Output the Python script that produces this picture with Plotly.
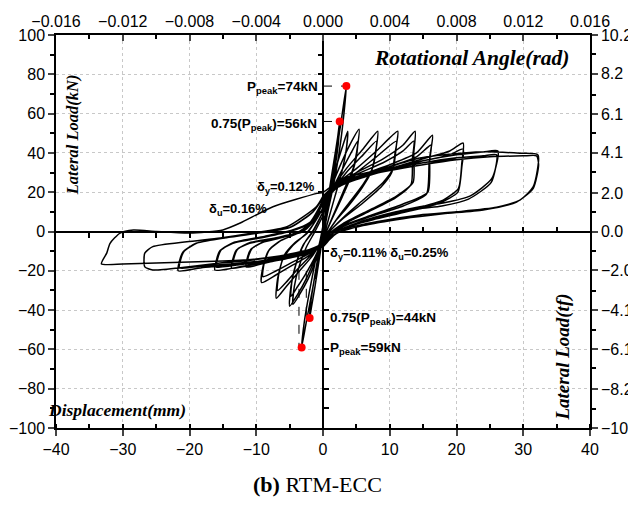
import plotly.graph_objects as go

# ---------------- data ----------------
# hysteresis cycles: displacement (mm) and lateral load (kN)
cyc1_mm = [0, 0.5, 1.0, 1.3, 1.0, 0.3, 0, -0.5, -1.0, -1.2, -0.8, -0.3, 0]
cyc1_kN = [0, 10, 20, 25, 18, 5, 0, -10, -20, -24, -15, -5, 0]

cyc2_mm = [0, 0.8, 1.6, 2.2, 2.5, 2.3, 1.6, 0.8, 0, -0.6, -1.2, -1.7, -2.0, -1.8, -1.2, -0.6, 0]
cyc2_kN = [0, 18, 35, 48, 56, 45, 28, 12, -2, -15, -28, -38, -44, -35, -22, -10, 0]

cyc3_mm = [0, 1.0, 2.0, 2.8, 3.5, 3.2, 2.5, 1.6, 0.6, 0, -0.8, -1.6, -2.5, -3.2, -2.8, -2.0, -1.2, -0.4, 0]
cyc3_kN = [0, 20, 40, 58, 74, 62, 42, 24, 8, -3, -15, -30, -46, -59, -46, -30, -16, -4, 3]

cyc4_mm = [0, 1.0, 2.0, 3.0, 3.7, 3.5, 2.8, 1.8, 0.8, 0, -1.0, -2.2, -3.5, -4.5, -4.3, -3.6, -2.5, -1.2, 0]
cyc4_kN = [3, 20, 33, 44, 51, 42, 30, 18, 6, -4, -14, -24, -32, -37, -28, -18, -8, 0, 8]

cyc5_mm = [0, 1.0, 2.5, 4.0, 5.4, 5.2, 4.5, 3.0, 1.5, 0, -1.2, -2.5, -3.8, -5.0, -4.8, -4.0, -3.0, -1.5, 0]
cyc5_kN = [8, 20, 33, 44, 52, 44, 32, 20, 8, -4, -14, -24, -32, -38, -28, -16, -7, 0, 10]

cyc5b_mm = [0, 1.2, 2.8, 4.2, 5.2, 5.0, 4.2, 2.8, 1.3, 0, -1.2, -2.5, -3.8, -4.8, -4.6, -3.8, -2.8, -1.4, 0]
cyc5b_kN = [10, 20, 31, 40, 46, 38, 28, 17, 6, -4, -13, -21, -28, -33, -24, -14, -6, 1, 10]

cyc6_mm = [0, 1.5, 3.5, 6.0, 8.2, 8.0, 7.5, 6.0, 4.0, 2.0, 0, -1.5, -3.5, -5.5, -7.0, -6.8, -6.0, -4.5, -2.5, -1.0, 0]
cyc6_kN = [10, 22, 32, 42, 51, 43, 33, 24, 15, 6, -4, -12, -20, -28, -34, -24, -14, -7, -1, 6, 12]

cyc6b_mm = [0, 1.5, 3.5, 6.0, 8.0, 7.8, 7.2, 5.8, 3.8, 1.8, 0, -1.5, -3.5, -5.3, -6.8, -6.6, -5.8, -4.3, -2.4, -1.0, 0]
cyc6b_kN = [12, 21, 30, 39, 46, 39, 30, 22, 13, 5, -4, -11, -18, -25, -30, -21, -12, -6, -1, 6, 12]

cyc7_mm = [0, 2.0, 5.0, 8.0, 11.2, 11.0, 10.5, 9.0, 6.0, 3.0, 1.0, 0, -2.0, -4.5, -7.0, -9.2, -9.0, -8.2, -6.5, -4.0, -2.0, 0]
cyc7_kN = [12, 24, 32, 41, 51, 44, 32, 25, 16, 7, 0, -5, -12, -17, -22, -26, -18, -10, -5, -1, 4, 14]

cyc7b_mm = [0, 2.0, 5.0, 8.0, 11.0, 10.8, 10.3, 8.8, 5.8, 2.8, 1.0, 0, -2.0, -4.5, -7.0, -9.0, -8.8, -8.0, -6.3, -3.8, -1.8, 0]
cyc7b_kN = [13, 23, 30, 38, 46, 40, 30, 23, 14, 6, 0, -5, -11, -15.5, -20, -23, -16, -9, -4.5, -1, 4, 14]

cyc8_mm = [0, 2.0, 5.0, 9.0, 12.0, 13.8, 13.6, 13.5, 11.0, 7.0, 3.0, 1.0, 0, -2.0, -5.0, -8.0, -11.5, -11.3, -10.8, -9.0, -6.0, -3.0, -1.0, 0]
cyc8_kN = [14, 24, 30, 37, 44, 51, 40, 25, 18, 11, 4, -1, -6, -11, -13.5, -15.5, -18, -13, -9, -5.5, -3, 1, 8, 15]

cyc8b_mm = [0, 2.0, 5.0, 9.0, 12.0, 13.6, 13.4, 13.2, 10.8, 6.8, 3.0, 1.0, 0, -2.0, -5.0, -8.0, -11.3, -11.1, -10.6, -8.8, -5.8, -2.8, -1.0, 0]
cyc8b_kN = [14, 23, 29, 35, 41, 46, 37, 24, 17, 10, 3.5, -1, -6, -10.5, -13, -15, -16.5, -12, -8.5, -5, -2.5, 1, 8, 15]

cyc9_mm = [0, 2.0, 6.0, 10.0, 14.0, 16.4, 16.0, 15.7, 12.0, 7.0, 3.0, 1.0, 0, -3.0, -7.0, -10.0, -13.7, -13.5, -13.0, -11.0, -7.0, -3.0, -1.0, 0]
cyc9_kN = [15, 23, 29, 34, 40, 49, 38, 20, 14, 8, 3, -2, -6, -11, -14, -16.5, -18.6, -14, -9.5, -6, -3.5, 0, 7, 16]

cyc9b_mm = [0, 2.0, 6.0, 10.0, 14.0, 16.2, 15.9, 15.5, 12.0, 7.0, 3.0, 1.0, 0, -3.0, -7.0, -10.0, -13.5, -13.3, -12.8, -10.8, -6.8, -2.8, -1.0, 0]
cyc9b_kN = [15, 22, 28, 33, 38, 44, 35, 19, 13, 7.5, 2.5, -2, -6, -10.5, -13.5, -15.5, -17, -13, -9, -5.5, -3, 0.5, 7, 16]

cyc10_mm = [0, 2.0, 6.0, 10.0, 15.0, 19.0, 21.0, 20.8, 20.3, 18.0, 13.0, 8.0, 4.0, 1.5, 0, -3.0, -7.0, -11.0, -16.2, -16.0, -15.5, -13.5, -9.0, -5.0, -2.0, 0]
cyc10_kN = [16, 23, 28, 32, 37, 41, 45, 35, 22, 16, 11, 6.5, 3, -1, -6, -11, -14, -17, -19.6, -15, -10, -6, -3, 0, 4, 16]

cyc10b_mm = [0, 2.0, 6.0, 10.0, 15.0, 19.0, 21.0, 20.8, 20.2, 17.5, 12.5, 7.5, 3.8, 1.5, 0, -3.0, -7.0, -11.0, -16.0, -15.8, -15.3, -13.3, -8.8, -4.8, -2.0, 0]
cyc10b_kN = [16, 22.5, 27.5, 31.5, 36, 39, 42, 33, 20, 14.5, 10, 6, 2.5, -1, -6, -10.5, -13.5, -16, -18, -14, -9.5, -5.5, -2.5, 0.5, 4.5, 16]

cyc11_mm = [0, 2.0, 6.0, 10.0, 15.0, 20.0, 24.0, 26.2, 25.3, 22.0, 18.0, 14.5, 8.0, 4.0, 1.5, 0, -3.0, -8.0, -14.0, -18.0, -21.7, -21.5, -21.0, -19.0, -15.0, -10.0, -5.0, -1.5, 0]
cyc11_kN = [16, 23, 28.5, 32, 36, 39, 40.5, 41, 27, 18, 14.5, 12.6, 7.5, 3, -1, -7, -11.5, -15, -17, -18.3, -20, -15, -10.5, -6, -3.5, -1, 2, 10, 17]

cyc11b_mm = [0, 2.0, 6.0, 10.0, 15.0, 20.0, 24.0, 26.0, 25.2, 21.8, 17.8, 14.3, 8.0, 4.0, 1.5, 0, -3.0, -8.0, -14.0, -18.0, -21.5, -21.3, -20.8, -18.8, -14.8, -9.8, -4.8, -1.5, 0]
cyc11b_kN = [16, 22.5, 28, 31.5, 35, 37.5, 38.5, 39, 25, 16.5, 13, 11.5, 7, 2.8, -1, -7, -11, -14.5, -16.5, -17.5, -18.5, -14, -10, -5.8, -3.3, -0.8, 2.2, 10, 17]

cyc12_mm = [0, 2.0, 6.0, 10.0, 14.5, 21.0, 24.5, 29.5, 32.2, 31.5, 29.5, 26.0, 20.0, 14.5, 8.0, 4.0, 1.5, 0, -5.4, -10.5, -15.4, -20.4, -25.5, -26.7, -26.7, -25.5, -20.4, -15.4, -10.5, -5.4, -1.0, 0]
cyc12_kN = [17, 24, 29, 33, 37.4, 40, 40.6, 39.8, 39, 22.8, 16, 12.3, 10, 8.4, 5, 2, -2, -7.7, -12, -14.5, -16, -18, -19.6, -18, -11, -7.7, -5.2, -3.3, -0.8, 2.4, 12.6, 18]

cyc13_mm = [0, 2.0, 6.0, 10.0, 15.0, 20.0, 25.0, 30.0, 32.0, 32.3, 31.5, 29.0, 24.0, 18.0, 12.0, 6.0, 2.0, 0, -5.0, -10.0, -15.0, -20.0, -25.0, -30.0, -33.2, -32.4, -31.9, -30.4, -28.4, -25.0, -20.0, -15.0, -12.4, -7.5, -0.9, 0, 3.0, 8.0, 15.0, 20.0]
cyc13_kN = [18, 24, 28, 31, 34, 36.5, 38, 38.5, 38.5, 34, 22, 15, 11, 9, 6.5, 3, -1, -7, -11.5, -14, -15, -15.5, -16, -16.5, -16.5, -11, -6, -0.8, 0.7, 0, -0.8, 0.8, 4.3, 12.6, 19.4, 20, 27, 31, 35, 37]

cycles = [
    (cyc1_mm, cyc1_kN), (cyc2_mm, cyc2_kN), (cyc3_mm, cyc3_kN), (cyc4_mm, cyc4_kN),
    (cyc5_mm, cyc5_kN), (cyc5b_mm, cyc5b_kN), (cyc6_mm, cyc6_kN), (cyc6b_mm, cyc6b_kN),
    (cyc7_mm, cyc7_kN), (cyc7b_mm, cyc7b_kN), (cyc8_mm, cyc8_kN), (cyc8b_mm, cyc8b_kN),
    (cyc9_mm, cyc9_kN), (cyc9b_mm, cyc9b_kN), (cyc10_mm, cyc10_kN), (cyc10b_mm, cyc10b_kN),
    (cyc11_mm, cyc11_kN), (cyc11b_mm, cyc11b_kN), (cyc12_mm, cyc12_kN), (cyc13_mm, cyc13_kN),
]

# characteristic points (red markers)
key_mm = [3.5, 2.5, -2.0, -3.2]
key_kN = [74, 56, -44, -59]

# axis ticks
x_ticks = [-40, -30, -20, -10, 0, 10, 20, 30, 40]
y_ticks = [-100, -80, -60, -40, -20, 0, 20, 40, 60, 80, 100]
rot_ticks = [-0.016, -0.012, -0.008, -0.004, 0.0, 0.004, 0.008, 0.012, 0.016]
tf_ticks = [-10.2, -8.2, -6.1, -4.1, -2.0, 0.0, 2.0, 4.1, 6.1, 8.2, 10.2]
tf_minor = [-9.2, -7.1, -5.1, -3.1, -1.0, 1.0, 3.1, 5.1, 7.1, 9.2]

# ---------------- figure ----------------
fig = go.Figure()

all_x, all_y = [], []
for cx, cy in cycles:
    all_x += cx
    all_y += cy
fig.add_trace(go.Scatter(x=all_x, y=all_y, mode="lines",
                         line=dict(color="black", width=1.5, shape="spline", smoothing=0.6),
                         showlegend=False, hoverinfo="skip"))

# dashed guides to characteristic points
dash = dict(color="black", width=1, dash="dash")
fig.add_trace(go.Scatter(x=[0, key_mm[0]], y=[key_kN[0], key_kN[0]], mode="lines", line=dash, showlegend=False))
fig.add_trace(go.Scatter(x=[0, key_mm[1]], y=[key_kN[1], key_kN[1]], mode="lines", line=dash, showlegend=False))
fig.add_trace(go.Scatter(x=[key_mm[2] - 0.5, key_mm[2] - 0.5], y=[-20, key_kN[2]], mode="lines", line=dash, showlegend=False))
fig.add_trace(go.Scatter(x=[key_mm[3] - 0.4, key_mm[3] - 0.4], y=[-20, key_kN[3]], mode="lines", line=dash, showlegend=False))

fig.add_trace(go.Scatter(x=key_mm, y=key_kN, mode="markers",
                         marker=dict(color="red", size=8), showlegend=False))

# dummy traces to activate the secondary axes
for xa, ya in [("x2", "y"), ("x", "y2"), ("x3", "y"), ("x4", "y"), ("x", "y3"), ("x", "y4")]:
    fig.add_trace(go.Scatter(x=[None], y=[None], xaxis=xa, yaxis=ya, showlegend=False))

tick_font = dict(family="Arial, Liberation Sans, sans-serif", size=16, color="black")
grid = dict(showgrid=True, gridcolor="#c8c8c8", griddash="dot", gridwidth=1)
small = dict(ticklen=5, tickwidth=1.5, tickcolor="black", showticklabels=False, showline=False,
             showgrid=False, zeroline=False, automargin=False)

# page body adds an 8 px offset; figure sized to fill the 636x507 window
fig.update_layout(
    width=628, height=499,
    margin=dict(l=48, r=46, t=27, b=79, autoexpand=False),
    paper_bgcolor="white", plot_bgcolor="white",
    xaxis=dict(range=[-40, 40], tickvals=x_ticks, ticks="outside", ticklen=6, tickwidth=1.5,
               showline=True, linecolor="black", linewidth=1.5, tickfont=tick_font, automargin=False,
               zeroline=True, zerolinecolor="black", zerolinewidth=1.5,
               minor=dict(dtick=5, ticks="inside", ticklen=4, tickwidth=1.5, tickcolor="black", showgrid=False),
               **grid),
    yaxis=dict(range=[-100, 100], tickvals=y_ticks, ticks="outside", ticklen=6, tickwidth=1.5,
               showline=True, linecolor="black", linewidth=1.5, tickfont=tick_font, automargin=False,
               zeroline=True, zerolinecolor="black", zerolinewidth=1.5,
               minor=dict(dtick=10, ticks="outside", ticklen=4, tickwidth=1.5, tickcolor="black", showgrid=False),
               **grid),
    xaxis2=dict(overlaying="x", side="top", anchor="y", range=[-0.016, 0.016], tickvals=rot_ticks,
                tickformat=".3f", ticks="inside", ticklen=6, tickwidth=1.5, showline=True, automargin=False,
                linecolor="black", linewidth=1.5, tickfont=tick_font, showgrid=False, zeroline=False,
                minor=dict(dtick=0.002, ticks="inside", ticklen=4, tickwidth=1.5, tickcolor="black")),
    yaxis2=dict(overlaying="y", side="right", anchor="x", range=[-10.2, 10.2], tickvals=tf_ticks,
                tickformat=".1f", ticks="outside", ticklen=6, tickwidth=1.5, showline=True, automargin=False,
                linecolor="black", linewidth=1.5, tickfont=tick_font, showgrid=False, zeroline=False,
                minor=dict(tickvals=tf_minor, ticks="outside", ticklen=4, tickwidth=1.5, tickcolor="black")),
    # small ticks along the central axes
    xaxis3=dict(overlaying="x", anchor="free", position=0.5, side="bottom", range=[-40, 40],
                tickvals=[-35, -30, -25, -20, -15, -10, -5], ticks="outside", **small),
    xaxis4=dict(overlaying="x", anchor="free", position=0.5, side="top", range=[-40, 40],
                tickvals=[5, 10, 15, 20, 25, 30, 35], ticks="outside", **small),
    yaxis3=dict(overlaying="y", anchor="free", position=0.5, side="left", range=[-100, 100],
                tickvals=[10, 20, 30, 40, 50, 60, 70, 80, 90], ticks="outside", **small),
    yaxis4=dict(overlaying="y", anchor="free", position=0.5, side="right", range=[-100, 100],
                tickvals=[-90, -80, -70, -60, -50, -40, -30, -20, -10], ticks="outside", **small),
)

serif = "Liberation Serif, Times New Roman, serif"
lab_font = dict(family="Arial, Liberation Sans, sans-serif", size=13.5, color="black")
d_font = dict(family="Arial, Liberation Sans, sans-serif", size=13, color="black")

ann = [
    dict(x=22.3, y=88.3, text="<b><i>Rotational Angle(rad)</i></b>", font=dict(family=serif, size=21.5, color="black"),
         xanchor="center", yanchor="middle"),
    dict(x=-37.6, y=49, text="<b><i>Lateral Load(kN)</i></b>", font=dict(family=serif, size=16.5, color="black"),
         textangle=-90, xanchor="center", yanchor="middle"),
    dict(x=-30.9, y=-90.8, text="<b><i>Displacement(mm)</i></b>", font=dict(family=serif, size=17.5, color="black"),
         xanchor="center", yanchor="middle"),
    dict(x=36, y=-64, text="<b><i>Lateral Load(tf)</i></b>", font=dict(family=serif, size=19, color="black"),
         textangle=-90, xanchor="center", yanchor="middle"),
    dict(x=-0.45, y=73.5, text="<b>P<sub>peak</sub>=74kN</b>", font=lab_font, xanchor="right", yanchor="middle"),
    dict(x=-0.6, y=54.7, text="<b>0.75(P<sub>peak</sub>)=56kN</b>", font=lab_font, xanchor="right", yanchor="middle"),
    dict(x=-0.9, y=22.6, text="<b>δ<sub>y</sub>=0.12%</b>", font=d_font, xanchor="right", yanchor="middle"),
    dict(x=-17.4, y=11, text="<b>δ<sub>u</sub>=0.16%</b>", font=d_font, xanchor="left", yanchor="middle"),
    dict(x=0.75, y=-11, text="<b>δ<sub>y</sub>=0.11% δ<sub>u</sub>=0.25%</b>", font=d_font, xanchor="left", yanchor="middle"),
    dict(x=0.75, y=-44.5, text="<b>0.75(P<sub>peak</sub>)=44kN</b>", font=lab_font, xanchor="left", yanchor="middle"),
    dict(x=0.75, y=-59.3, text="<b>P<sub>peak</sub>=59kN</b>", font=lab_font, xanchor="left", yanchor="middle"),
]
for a in ann:
    fig.add_annotation(xref="x", yref="y", showarrow=False, **a)

fig.add_annotation(xref="paper", yref="paper", x=0.49, y=-0.1425, showarrow=False,
                   text="<b>(b)</b> RTM-ECC", xanchor="center", yanchor="middle",
                   font=dict(family=serif, size=22, color="black"))

fig.write_html("out.html")
